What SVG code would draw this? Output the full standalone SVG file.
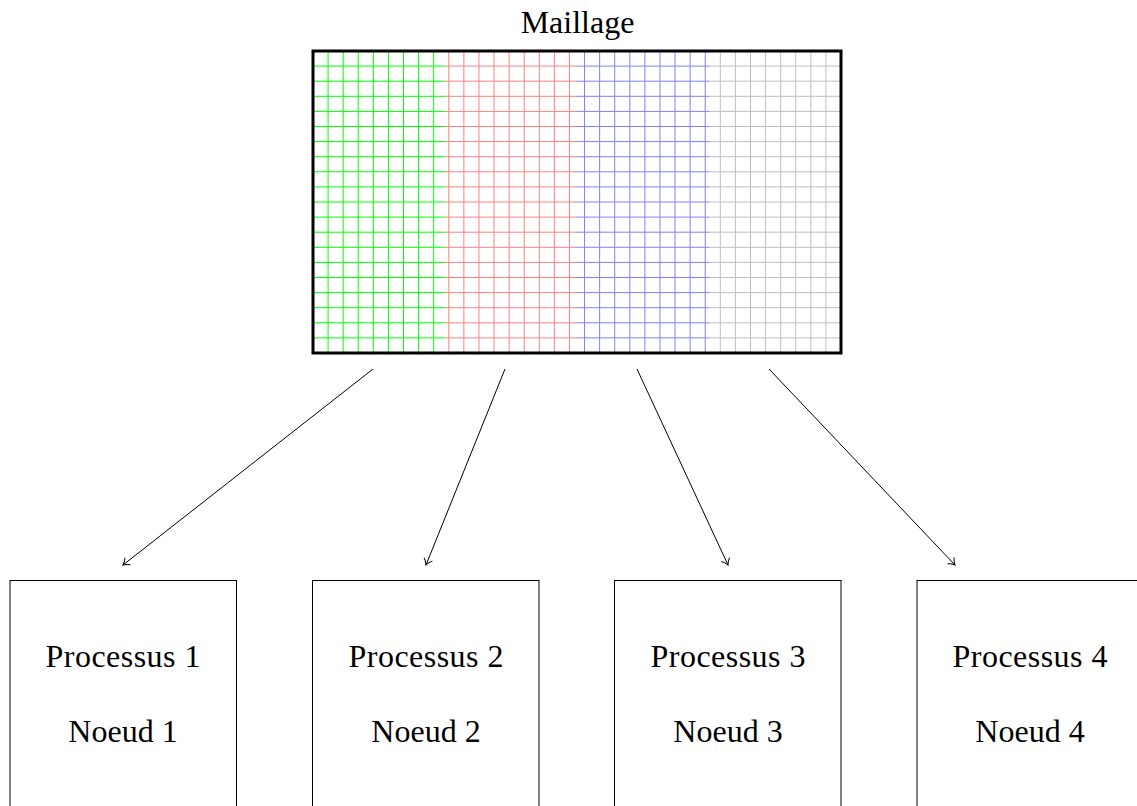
<svg xmlns="http://www.w3.org/2000/svg" xmlns:xlink="http://www.w3.org/1999/xlink" width="1137" height="806" viewBox="0 0 1137 806">
<style>
text{font-size:32px;fill:#000;text-anchor:middle}
.box{fill:#fff;stroke:#000;stroke-width:1}
.conn{fill:none;stroke:#000;stroke-width:1}
.grid{fill:none;stroke-width:1}
</style>
<defs>
<marker id="tip" markerUnits="userSpaceOnUse" orient="auto" markerWidth="12" markerHeight="12" viewBox="-8 -6 10 12" refX="0" refY="0">
<path d="M-6,-4.5 C-4,-2 -1.5,-0.6 0,0 C-1.5,0.6 -4,2 -6,4.5" fill="none" stroke="#000" stroke-width="1"/>
</marker>
<path id="h" d="M0,66.1h132M0,81.2h132M0,96.3h132M0,111.4h132M0,126.5h132M0,141.6h132M0,156.7h132M0,171.8h132M0,186.9h132M0,202h132M0,217.1h132M0,232.2h132M0,247.3h132M0,262.4h132M0,277.5h132M0,292.6h132M0,307.7h132M0,322.8h132M0,337.9h132"/>
</defs>
<rect width="1137" height="806" fill="#fff"/>
<g font-family="'Liberation Serif', 'DejaVu Serif', serif">
<g id="maillage">
<text x="577.5" y="33">Maillage</text>
<g class="grid" stroke="#00ff00">
<use xlink:href="#h" x="313"/>
<path d="M328.09,51V353M343.17,51V353M358.26,51V353M373.34,51V353M388.43,51V353M403.51,51V353M418.6,51V353M433.69,51V353"/>
</g>
<g class="grid" stroke="#ff8080">
<use xlink:href="#h" x="445"/>
<path d="M448.77,51V353M463.86,51V353M478.94,51V353M494.03,51V353M509.11,51V353M524.2,51V353M539.29,51V353M554.37,51V353M569.46,51V353"/>
</g>
<g class="grid" stroke="#8080ff">
<use xlink:href="#h" x="577"/>
<path d="M584.54,51V353M599.63,51V353M614.71,51V353M629.8,51V353M644.89,51V353M659.97,51V353M675.06,51V353M690.14,51V353M705.23,51V353"/>
</g>
<g class="grid" stroke="#bfbfbf">
<use xlink:href="#h" x="709"/>
<path d="M720.31,51V353M735.4,51V353M750.49,51V353M765.57,51V353M780.66,51V353M795.74,51V353M810.83,51V353M825.91,51V353"/>
</g>
<rect x="313" y="51" width="528" height="302" fill="none" stroke="#000" stroke-width="3"/>
</g>
<g id="connectors">
<path class="conn" d="M373,369L123,565" marker-end="url(#tip)"/>
<path class="conn" d="M505,369L426,565" marker-end="url(#tip)"/>
<path class="conn" d="M637,369L728,565" marker-end="url(#tip)"/>
<path class="conn" d="M769,369L955,565" marker-end="url(#tip)"/>
</g>
<g id="node1">
<rect class="box" x="10" y="580.5" width="226.5" height="260"/>
<text x="123" y="667" textLength="155" lengthAdjust="spacing">Processus 1</text>
<text x="123" y="742">Noeud 1</text>
</g>
<g id="node2">
<rect class="box" x="312.5" y="580.5" width="226.5" height="260"/>
<text x="426" y="667" textLength="155" lengthAdjust="spacing">Processus 2</text>
<text x="426" y="742">Noeud 2</text>
</g>
<g id="node3">
<rect class="box" x="614.5" y="580.5" width="226.5" height="260"/>
<text x="728" y="667" textLength="155" lengthAdjust="spacing">Processus 3</text>
<text x="728" y="742">Noeud 3</text>
</g>
<g id="node4">
<rect class="box" x="917" y="580.5" width="226.5" height="260"/>
<text x="1030" y="667" textLength="155" lengthAdjust="spacing">Processus 4</text>
<text x="1030" y="742">Noeud 4</text>
</g>
</g>
</svg>
